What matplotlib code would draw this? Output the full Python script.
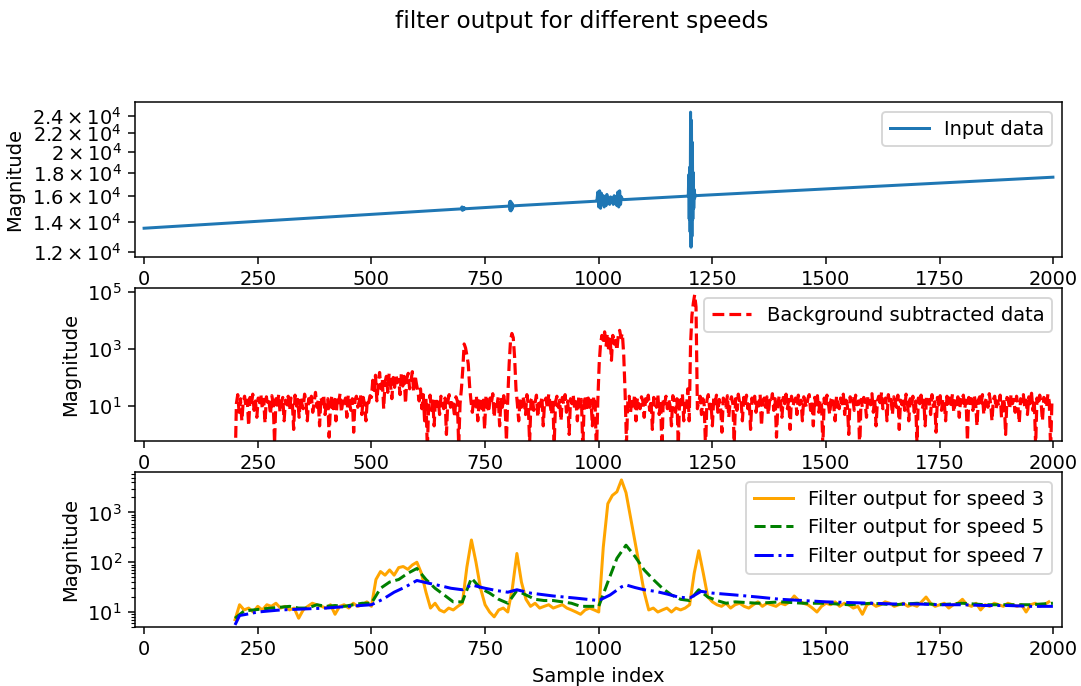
import numpy as np
import matplotlib
matplotlib.use("Agg")
import matplotlib.pyplot as plt
from matplotlib.ticker import FixedLocator, NullLocator, FixedFormatter, LogLocator, LogFormatterSciNotation

# ---------------- data ----------------
title = "filter output for different speeds"

# Input data (straight baseline with bursts)
input_x = [0, 698, 699, 700, 701, 702, 703, 704, 705, 706,
           803, 804, 805, 806, 807, 808, 809, 810, 811, 812,
           995, 996, 998, 1000, 1002, 1004, 1006, 1008, 1010, 1012, 1014, 1016, 1018, 1020,
           1022, 1024, 1026, 1028, 1030, 1032, 1034, 1036, 1038, 1040, 1042, 1044, 1046,
           1048, 1050, 1052, 1055,
           1195, 1197, 1198, 1199, 1200, 1201, 1202, 1203, 1204, 1205, 1206, 1207, 1208,
           1209, 1210, 1211, 1212, 1213, 1999]
input_y = [13550, 14957, 15100, 14850, 15080, 14880, 15050, 14920, 15020, 14965,
           15170, 15500, 14850, 15550, 14800, 15450, 14900, 15350, 15100, 15190,
           15555, 15600, 16300, 15100, 16400, 15000, 16200, 15300, 16000, 15100, 15900, 15200, 16100, 15400,
           15800, 15300, 15900, 15500, 15800, 15300, 16000, 15400, 15900, 15200, 16300, 15100, 16400,
           15300, 15900, 15700, 15680,
           15960, 16000, 17800, 14200, 18500, 13300, 24500, 12300, 23500, 13000, 21000, 14200, 18000,
           15000, 16500, 15800, 16100, 16000, 17580]

# Background subtracted data: samples 200, 203, ..., 1997 (20 values = 60 samples per row)
bg_start = 200
bg_step = 3
bg_y = [
    0.05, 12, 25, 6, 18, 3, 14, 22, 9, 16, 2, 20, 11, 26, 7, 15, 4, 19, 13, 24,            # 200
    8, 17, 2.5, 21, 10, 14, 5, 23, 12, 0.5, 18, 9, 25, 6, 13, 20, 3, 16, 11, 22,           # 260
    7, 19, 14, 1.5, 24, 10, 17, 4, 21, 12, 8, 26, 15, 3, 18, 11, 22, 6, 13, 30,            # 320
    9, 16, 2, 20, 12, 25, 5, 14, 18, 0.8, 11, 23, 8, 17, 3, 21, 13, 27, 6, 15,             # 380
    10, 19, 4, 24, 12, 7, 18, 1.2, 16, 22, 9, 14, 26, 5, 20, 11, 3, 17, 13, 23,            # 440
    20, 80, 35, 120, 15, 60, 150, 40, 90, 8, 70, 110, 30, 140, 55, 18, 100, 45, 130, 65,   # 500
    85, 25, 150, 50, 110, 12, 95, 140, 40, 75, 160, 30, 120, 60, 35, 15, 40, 8, 25, 3,     # 560
    18, 0.3, 12, 24, 7, 15, 2, 20, 10, 16, 5, 22, 13, 8, 19, 1, 14, 25, 9, 17,             # 620
    11, 4, 21, 15, 0.4, 12, 40, 200, 1500, 1100, 600, 300, 50, 15, 6, 18, 10, 22, 3, 14,   # 680
    20, 8, 16, 1.5, 24, 12, 6, 19, 13, 27, 4, 15, 10, 21, 2, 17, 9, 23, 11, 0.6,           # 740
    20, 300, 2000, 3500, 2500, 500, 40, 12, 3, 18, 9, 22, 14, 5, 25, 11, 0.5, 16, 20, 7,   # 800
    13, 24, 4, 17, 10, 21, 2, 15, 19, 8, 26, 12, 5, 18, 0.4, 14, 22, 9, 16, 3,             # 860
    20, 11, 25, 6, 15, 1, 18, 12, 23, 8, 14, 3, 21, 10, 17, 0.3, 13, 24, 7, 19,            # 920
    9, 16, 2, 22, 12, 0.2, 15, 300, 1500, 3000, 2000, 4000, 1200, 3500, 800, 2500, 400, 3000, 1500, 2000,  # 980
    900, 3000, 4500, 2500, 3500, 600, 30, 0.5, 14, 22, 6, 17, 10, 25, 3, 19, 12, 8, 21, 15,  # 1040
    4, 18, 11, 24, 7, 16, 1.5, 20, 13, 9, 26, 5, 15, 0.3, 19, 12, 22, 8, 17, 10,           # 1100
    2, 23, 14, 6, 18, 0.4, 21, 11, 27, 3, 16, 9, 40, 3, 1500, 15000, 40000, 80000, 30000, 8,  # 1160
    14, 22, 5, 18, 11, 0.3, 16, 25, 8, 13, 2, 20, 12, 24, 6, 17, 10, 1.2, 19, 15,          # 1220
    9, 23, 4, 14, 21, 12, 0.5, 18, 7, 26, 13, 16, 3, 20, 11, 24, 8, 15, 1.5, 19,           # 1280
    12, 22, 6, 17, 10, 25, 2, 14, 19, 9, 21, 5, 16, 13, 27, 7, 18, 0.8, 11, 23,            # 1340
    15, 4, 20, 12, 26, 8, 17, 1.5, 22, 10, 14, 19, 5, 24, 11, 16, 3, 21, 13, 9,            # 1400
    18, 25, 7, 14, 2, 20, 11, 23, 6, 16, 12, 0.4, 19, 9, 24, 13, 5, 17, 21, 10,            # 1460
    3, 22, 14, 8, 19, 12, 26, 5, 16, 10, 1, 21, 13, 18, 7, 24, 11, 15, 0.3, 17,            # 1520
    9, 20, 13, 4, 23, 16, 11, 27, 6, 18, 2, 15, 22, 10, 30, 8, 14, 19, 3, 25,              # 1580
    12, 17, 5, 21, 14, 9, 24, 1.5, 16, 11, 20, 7, 26, 13, 3, 18, 10, 22, 6, 15,            # 1640
    0.5, 19, 12, 24, 8, 16, 2, 21, 13, 17, 5, 25, 10, 14, 1.2, 20, 11, 23, 7, 18,          # 1700
    14, 3, 22, 12, 19, 9, 26, 6, 15, 11, 21, 4, 17, 13, 24, 8, 16, 0.6, 20, 10,            # 1760
    18, 7, 23, 13, 2, 16, 21, 11, 25, 5, 14, 19, 9, 27, 12, 3, 17, 22, 8, 15,              # 1820
    10, 24, 4, 19, 13, 1, 20, 15, 8, 26, 12, 17, 6, 22, 11, 2.5, 18, 14, 25, 9,            # 1880
    16, 5, 21, 12, 28, 7, 17, 0.4, 19, 11, 24, 13, 3, 20, 15, 9, 26, 14, 0.3, 18,          # 1940
]

# Filter output speed 3: samples 200, 210, ..., 1990
s3_start = 200
s3_step = 10
speed3 = [
    7, 14, 11, 12, 10, 13, 11, 14, 13, 15,            # 200-290
    12, 13, 11, 12, 7.5, 11, 13, 15, 14, 13,          # 300-390
    12, 14, 9, 13, 14, 12, 15, 13, 14, 16,            # 400-490
    13, 45, 65, 55, 70, 55, 78, 82, 72, 88,           # 500-590
    100, 60, 25, 12, 15, 11, 10, 12, 11, 13,          # 600-690
    15, 80, 280, 100, 30, 14, 10, 8, 11, 12,          # 700-790
    10, 30, 150, 40, 18, 13, 15, 12, 13, 14,          # 800-890
    12, 13, 14, 12, 11, 10, 9, 11, 12, 11,            # 900-990
    10, 200, 1500, 2200, 2600, 4500, 2500, 800, 250, 80,   # 1000-1090
    25, 11, 12, 10, 11, 12, 10, 12, 11, 12,          # 1100-1190
    14, 60, 170, 60, 20, 16, 14, 13, 15, 12,         # 1200-1290
    14, 15, 13, 12, 14, 16, 13, 15, 14, 13,          # 1300-1390
    15, 14, 16, 21, 17, 15, 14, 12, 10, 13,          # 1400-1490
    15, 14, 16, 13, 15, 14, 12, 13, 9, 14,           # 1500-1590
    15, 13, 14, 16, 15, 13, 14, 15, 13, 14,          # 1600-1690
    13, 16, 20, 15, 13, 14, 15, 12, 14, 15,          # 1700-1790
    18, 14, 13, 15, 11, 14, 13, 15, 14, 13,          # 1800-1890
    15, 14, 13, 14, 10, 14, 15, 13, 14, 16,          # 1900-1990
]

# Filter output speed 5
speed5_x = [200, 220, 240, 260, 280, 300, 320, 340, 360, 380, 400, 420, 440, 460, 480,
            500, 520, 540, 560, 580, 600, 620, 640, 660, 680, 700, 720, 740, 760, 780,
            800, 820, 840, 860, 880, 900, 920, 940, 960, 980, 1000, 1020, 1040, 1060,
            1080, 1100, 1120, 1140, 1160, 1180, 1200, 1220, 1240, 1260, 1280, 1300,
            1350, 1400, 1450, 1500, 1550, 1600, 1650, 1700, 1750, 1800, 1850, 1900,
            1950, 1999]
speed5 = [7.5, 10.5, 11, 11.5, 12, 12.5, 13, 12, 12, 14, 13, 13.5, 13, 14, 15,
          15, 30, 40, 45, 60, 75, 45, 30, 22, 16, 16, 48, 30, 24, 18,
          15, 27, 22, 18, 17, 17, 16, 15, 13, 13, 13, 40, 120, 220,
          130, 70, 45, 30, 22, 18, 17, 28, 20, 17, 15, 16,
          15, 16, 15, 15, 14, 15, 14, 15, 14, 15, 14, 14,
          14, 15]

# Filter output speed 7
speed7_x = [200, 210, 225, 250, 275, 300, 350, 400, 450, 500, 525, 550, 575, 600,
            625, 650, 675, 700, 720, 750, 775, 800, 820, 850, 900, 950, 1000, 1025,
            1050, 1060, 1080, 1100, 1125, 1150, 1175, 1200, 1225, 1250, 1300, 1350,
            1400, 1450, 1500, 1550, 1600, 1650, 1700, 1750, 1800, 1850, 1900, 1950, 1999]
speed7 = [5.5, 8.5, 9, 10, 10.5, 11, 11.5, 12, 13, 14, 18, 25, 32, 43,
          38, 34, 30, 28, 35, 30, 27, 25, 28, 24, 21, 19, 17, 22,
          32, 35, 31, 28, 26, 23, 20, 19, 26, 24, 22, 20,
          18, 17, 16, 15.5, 15, 14.5, 14.5, 14, 14, 13.5, 13.5, 13, 13]

top_ticks = [1.2e4, 1.4e4, 1.6e4, 1.8e4, 2.0e4, 2.2e4, 2.4e4]
top_tick_labels = [r"$\mathdefault{1.2\times10^{4}}$", r"$\mathdefault{1.4\times10^{4}}$",
                   r"$\mathdefault{1.6\times10^{4}}$", r"$\mathdefault{1.8\times10^{4}}$",
                   r"$\mathdefault{2\times10^{4}}$", r"$\mathdefault{2.2\times10^{4}}$",
                   r"$\mathdefault{2.4\times10^{4}}$"]
x_ticks = [0, 250, 500, 750, 1000, 1250, 1500, 1750, 2000]

# ---------------- plot ----------------
plt.rcParams['font.family'] = ['DejaVu Sans']
plt.rcParams['font.size'] = 10.4
plt.rcParams['mathtext.fontset'] = 'dejavusans'

W, H, DPI = 1081, 686, 135
fig = plt.figure(figsize=(W / DPI, H / DPI), dpi=DPI)
left, right = 135 / W, 1062 / W

def add_ax(top_px, bot_px):
    return fig.add_axes([left, 1 - bot_px / H, right - left, (bot_px - top_px) / H])

ax1 = add_ax(102, 257)
ax2 = add_ax(288, 441)
ax3 = add_ax(472, 627)

fig.suptitle(title, fontsize=12.4, x=582 / W, y=0.985)

# top
ax1.plot(input_x, input_y, color='#1f77b4', lw=1.6, label='Input data')
ax1.set_yscale('log')
ax1.set_ylim(1.17e4, 2.58e4)
ax1.yaxis.set_major_locator(FixedLocator(top_ticks))
ax1.yaxis.set_major_formatter(FixedFormatter(top_tick_labels))
ax1.yaxis.set_minor_locator(NullLocator())
ax1.legend(loc='upper right')

# middle
bg_x = bg_start + bg_step * np.arange(len(bg_y))
ax2.plot(bg_x, bg_y, color='red', ls='--', lw=1.7, label='Background subtracted data')
ax2.set_yscale('log')
ax2.set_ylim(0.59, 1.38e5)
ax2.yaxis.set_major_locator(FixedLocator([10, 1e3, 1e5]))
ax2.yaxis.set_major_formatter(LogFormatterSciNotation())
ax2.yaxis.set_minor_locator(NullLocator())
ax2.legend(loc='upper right')

# bottom
s3_x = s3_start + s3_step * np.arange(len(speed3))
ax3.plot(s3_x, speed3, color='orange', lw=1.6, label='Filter output for speed 3')
ax3.plot(speed5_x, speed5, color='green', ls='--', lw=1.6, label='Filter output for speed 5')
ax3.plot(speed7_x, speed7, color='blue', ls='-.', lw=1.6, label='Filter output for speed 7')
ax3.set_yscale('log')
ax3.set_ylim(5, 6500)
ax3.yaxis.set_major_locator(LogLocator(base=10, numticks=10))
ax3.yaxis.set_minor_locator(LogLocator(base=10, subs=np.arange(2, 10) * 1.0, numticks=10))
ax3.yaxis.set_major_formatter(LogFormatterSciNotation())
ax3.legend(loc='upper right')
ax3.set_xlabel('Sample index')

for ax in (ax1, ax2, ax3):
    ax.set_xlim(-20, 2019)
    ax.set_xticks(x_ticks)
    ax.set_ylabel('Magnitude')

fig.savefig('out.png', dpi=DPI)
